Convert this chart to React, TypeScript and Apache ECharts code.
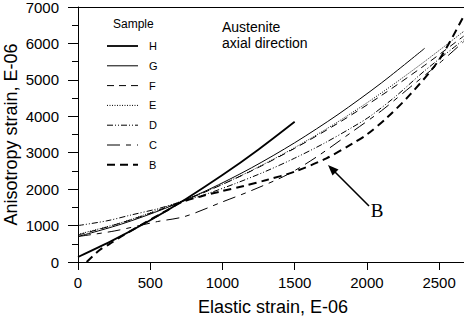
import React, { useEffect, useRef } from "react";
import * as echarts from "echarts";

const xTicks = [0, 500, 1000, 1500, 2000, 2500];
const yTicks = [0, 1000, 2000, 3000, 4000, 5000, 6000, 7000];

const sampleH = [[0, 137], [250, 614], [500, 1148], [750, 1739], [1000, 2386], [1250, 3090], [1500, 3850]];
const sampleG = [[0, 700], [300, 1040], [600, 1467], [900, 1981], [1200, 2583], [1500, 3273], [1800, 4049], [2100, 4914], [2400, 5866]];
const sampleF = [[0, 740], [300, 1075], [600, 1480], [900, 1955], [1200, 2500], [1500, 3120], [1800, 3810], [2100, 4570], [2400, 5400], [2670, 6200]];
const sampleE = [[0, 760], [300, 1080], [600, 1500], [900, 1960], [1200, 2510], [1500, 3140], [1800, 3850], [2100, 4640], [2400, 5505], [2670, 6330]];
const sampleD = [[0, 1000], [200, 1130], [367, 1290], [550, 1460], [716, 1655], [900, 1880], [1100, 2170], [1300, 2490], [1500, 2850], [1700, 3250], [1900, 3700], [2022, 4000], [2200, 4550], [2400, 5250], [2670, 6100]];
const sampleC = [[0, 700], [250, 850], [550, 1110], [740, 1250], [1000, 1650], [1200, 1960], [1450, 2400], [1650, 2880], [1900, 3580], [2100, 4150], [2300, 4800], [2500, 5450], [2670, 6050]];
const sampleB = [[60, 0], [150, 330], [217, 490], [300, 700], [450, 1050], [600, 1380], [716, 1640], [850, 1800], [981, 1930], [1150, 2090], [1305, 2250], [1500, 2480], [1720, 2846], [1900, 3250], [2000, 3500], [2136, 3950], [2300, 4600], [2500, 5550], [2670, 6750]];

const legendNames = ["H", "G", "F", "E", "D", "C", "B"];

const styles: Record<string, { width: number; dash: any }> = {
  H: { width: 1.8, dash: "solid" },
  G: { width: 1, dash: "solid" },
  F: { width: 1, dash: [7, 5] },
  E: { width: 1, dash: [1, 1.5] },
  D: { width: 1, dash: [6, 2, 1, 2, 1, 2] },
  C: { width: 1, dash: [13, 6, 5, 6] },
  B: { width: 2, dash: [8, 5] },
};

const dataMap: Record<string, number[][]> = {
  H: sampleH, G: sampleG, F: sampleF, E: sampleE, D: sampleD, C: sampleC, B: sampleB,
};

const FONT = "Liberation Sans";

export default function App() {
  const ref = useRef<HTMLDivElement>(null);
  useEffect(() => {
    document.body.style.margin = "0";
    document.body.style.overflow = "hidden";
    const chart = echarts.init(ref.current!, null, { renderer: "svg" });
    const series = legendNames.map((n) => ({
      name: n,
      type: "line",
      data: dataMap[n],
      smooth: 0.3,
      showSymbol: false,
      symbol: "none",
      lineStyle: { color: "#000", width: styles[n].width, type: styles[n].dash },
      z: 3,
    }));
    const legendGraphics: any[] = [
      { type: "text", x: 113, y: 18, style: { text: "Sample", fontFamily: FONT, fontSize: 12, fill: "#000" } },
    ];
    legendNames.forEach((n, i) => {
      const y = 46 + i * 19.8;
      legendGraphics.push({
        type: "line",
        shape: { x1: 107, y1: y, x2: 138, y2: y },
        style: { stroke: "#000", lineWidth: styles[n].width, lineDash: styles[n].dash === "solid" ? null : styles[n].dash },
      });
      legendGraphics.push({
        type: "text", x: 149, y: y, style: { text: n, fontFamily: FONT, fontSize: 11, fill: "#000", verticalAlign: "middle" },
      });
    });
    legendGraphics.push(
      { type: "text", x: 222, y: 20, style: { text: "Austenite", fontFamily: FONT, fontSize: 14, fill: "#000" } },
      { type: "text", x: 222, y: 36, style: { text: "axial direction", fontFamily: FONT, fontSize: 14, fill: "#000" } },
      { type: "line", shape: { x1: 369, y1: 206, x2: 334, y2: 171 }, style: { stroke: "#000", lineWidth: 1.6 } },
      { type: "polygon", shape: { points: [[328, 165], [338.5, 169.5], [332.5, 175.5]] }, style: { fill: "#000" } },
      { type: "text", x: 377, y: 210, style: { text: "B", fontFamily: "Liberation Serif", fontSize: 19, fill: "#000", align: "center", verticalAlign: "middle" } },
    );
    chart.setOption({
      animation: false,
      backgroundColor: "#fff",
      grid: { left: 78, right: -4, top: 7, bottom: 60, show: false, outerBoundsMode: "none", containLabel: false },
      xAxis: [
        {
          type: "value", min: 0, max: 2700, interval: 500,
          name: "Elastic strain, E-06", nameLocation: "middle", nameGap: 36, nameMoveOverlap: false,
          nameTextStyle: { fontFamily: FONT, fontSize: 18, color: "#000" },
          axisLine: { lineStyle: { color: "#000", width: 1 } },
          axisTick: { show: true, length: 8, lineStyle: { color: "#000" } },
          axisLabel: {
            fontFamily: FONT, fontSize: 15, color: "#000", margin: 13,
            formatter: (v: number) => (xTicks.includes(v) ? String(v) : ""),
          },
          splitLine: { show: false },
        },
        {
          type: "value", position: "top", min: 0, max: 2700,
          axisLine: { show: true, lineStyle: { color: "#000", width: 1 } },
          axisTick: { show: false }, axisLabel: { show: false }, splitLine: { show: false },
        },
      ],
      yAxis: {
        type: "value", min: 0, max: 7000, interval: 1000,
        name: "Anisotropy strain, E-06", nameLocation: "middle", nameGap: 58, nameMoveOverlap: false,
        nameTextStyle: { fontFamily: FONT, fontSize: 18, color: "#000" },
        axisLine: { show: true, lineStyle: { color: "#000", width: 1 } },
        axisTick: { show: true, length: 10, lineStyle: { color: "#000" } },
        minorTick: { show: true, splitNumber: 2, length: 6, lineStyle: { color: "#000" } },
        axisLabel: {
          fontFamily: FONT, fontSize: 15, color: "#000", margin: 19,
          formatter: (v: number) => (yTicks.includes(v) ? String(v) : ""),
        },
        splitLine: { show: false },
      },
      series,
      graphic: legendGraphics,
    });
    return () => chart.dispose();
  }, []);
  return <div ref={ref} style={{ width: 464, height: 322 }} />;
}
